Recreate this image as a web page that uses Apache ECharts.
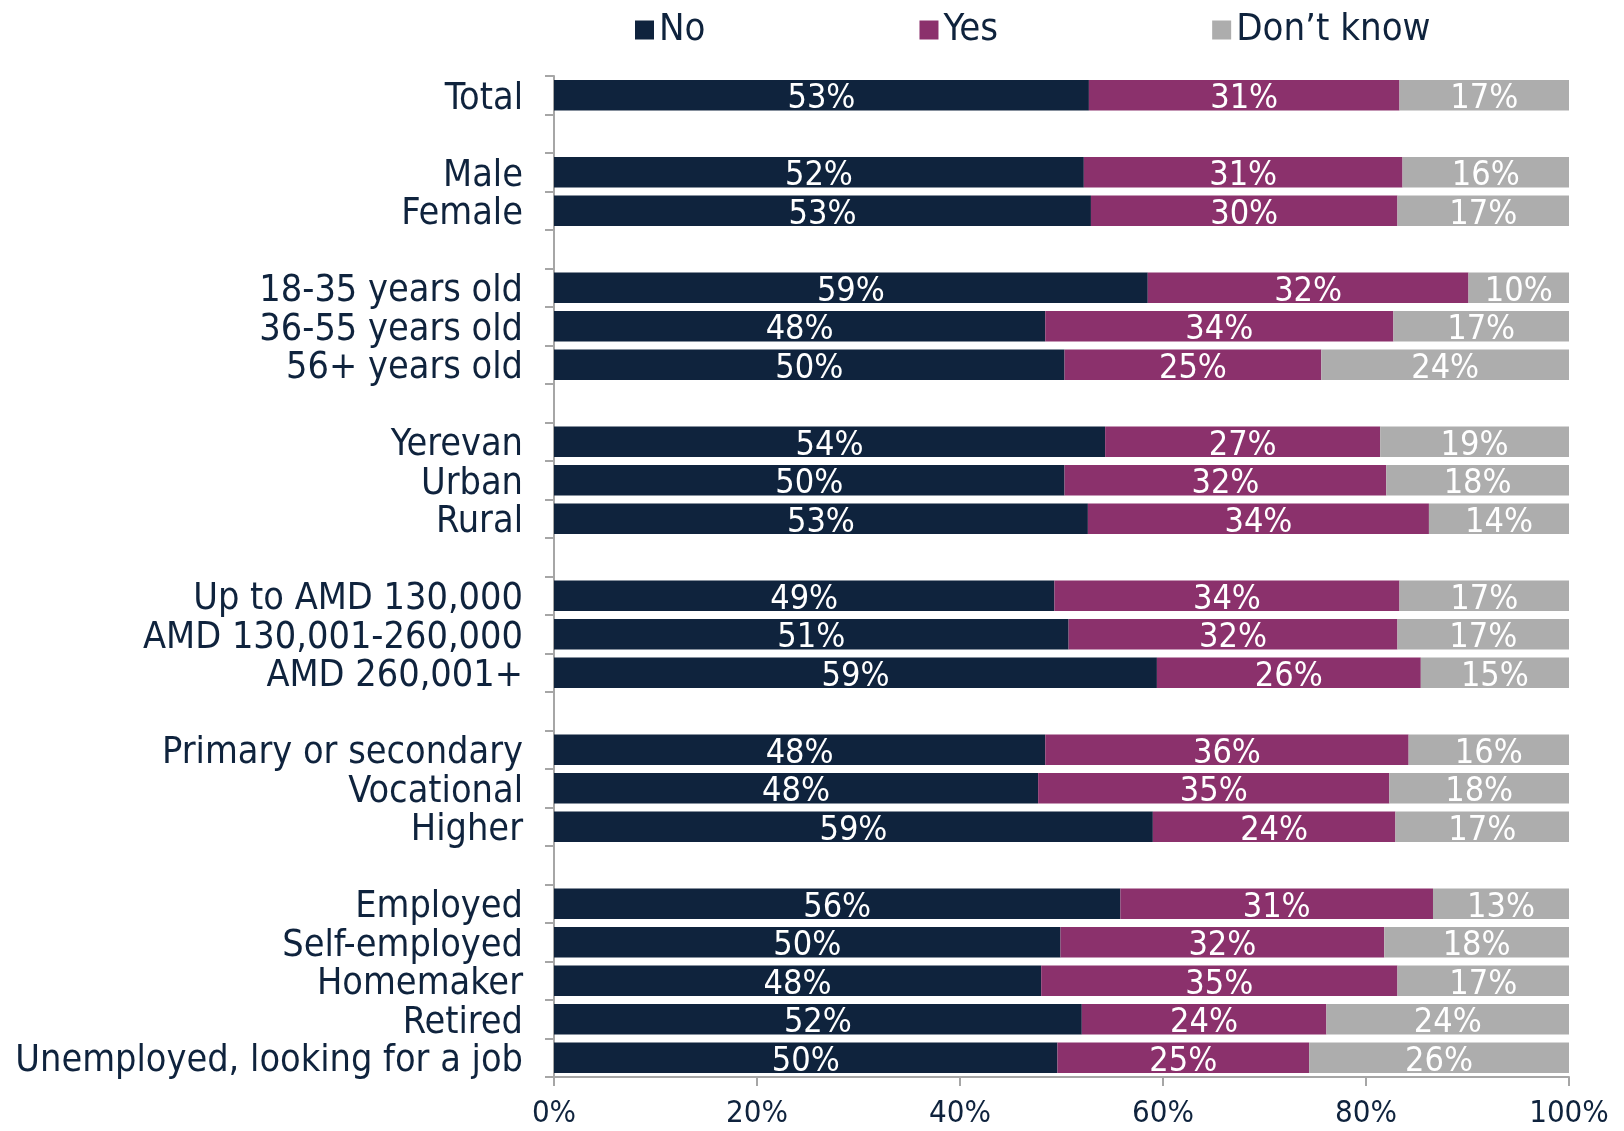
<!DOCTYPE html>
<html>
<head>
<meta charset="utf-8">
<title>Chart</title>
<script src="https://cdn.jsdelivr.net/npm/echarts@6/dist/echarts.min.js"></script>
<style>
  html, body { margin: 0; padding: 0; background: #fff; }
  #main { width: 1624px; height: 1131px; }
</style>
</head>
<body>
<div id="main"></div>
<script>
// categories, blank strings are the gaps between groups
var categories = [
  'Total', '',
  'Male', 'Female', '',
  '18-35 years old', '36-55 years old', '56+ years old', '',
  'Yerevan', 'Urban', 'Rural', '',
  'Up to AMD 130,000', 'AMD 130,001-260,000', 'AMD 260,001+', '',
  'Primary or secondary', 'Vocational', 'Higher', '',
  'Employed', 'Self-employed', 'Homemaker', 'Retired', 'Unemployed, looking for a job'
];
var seriesNames = ['No', 'Yes', 'Don\u2019t know'];
var noValues = [52.7, null, 52.2, 52.9, null, 58.5, 48.4, 50.3, null, 54.3, 50.3, 52.6, null,
  49.3, 50.7, 59.4, null, 48.4, 47.7, 59.0, null, 55.8, 49.9, 48.0, 52.0, 49.6];
var yesValues = [30.6, null, 31.4, 30.2, null, 31.6, 34.3, 25.3, null, 27.1, 31.7, 33.6, null,
  34.0, 32.4, 26.0, null, 35.8, 34.6, 23.9, null, 30.8, 31.9, 35.1, 24.1, 24.8];
var dkValues = [16.7, null, 16.4, 16.9, null, 9.9, 17.3, 24.4, null, 18.6, 18.0, 13.8, null,
  16.7, 16.9, 14.6, null, 15.8, 17.7, 17.1, null, 13.4, 18.2, 16.9, 23.9, 25.6];
var xTicks = [0, 20, 40, 60, 80, 100];
var colors = ['#0F233D', '#8B316C', '#ADADAD'];

var textColor = '#0F233D';
var fontFamily = '"DejaVu Sans Condensed", "DejaVu Sans", sans-serif';

var myChart = echarts.init(document.getElementById('main'));

function makeSeries(name, data, color) {
  return {
    name: name,
    type: 'bar',
    stack: 'total',
    barWidth: '79%',
    data: data,
    itemStyle: { color: color },
    label: {
      show: true,
      position: 'inside',
      offset: [0, 4],
      color: '#fff',
      fontFamily: fontFamily,
      fontSize: 34,
      formatter: function (p) {
        return p.value == null ? '' : Math.round(p.value) + '%';
      }
    }
  };
}

var option = {
  animation: false,
  color: colors,
  legend: {
    left: 630,
    top: 6,
    itemWidth: 19,
    itemHeight: 19,
    itemGap: 214,
    icon: 'rect',
    textStyle: { color: textColor, fontFamily: fontFamily, fontSize: 38 },
    data: seriesNames
  },
  grid: {
    left: 554,
    right: 55,
    top: 76,
    bottom: 54
  },
  xAxis: {
    type: 'value',
    min: 0,
    max: 100,
    interval: 20,
    axisLine: { show: true, lineStyle: { color: '#A6A6A6', width: 2 } },
    axisTick: { show: true, length: 9, lineStyle: { color: '#A6A6A6', width: 2 } },
    splitLine: { show: false },
    axisLabel: {
      margin: 21,
      color: textColor,
      fontFamily: fontFamily,
      fontSize: 31,
      customValues: xTicks,
      formatter: '{value}%'
    }
  },
  yAxis: {
    type: 'category',
    inverse: true,
    data: categories,
    axisLine: { show: true, lineStyle: { color: '#A6A6A6', width: 2 } },
    axisTick: { show: true, length: 9, interval: 0, lineStyle: { color: '#A6A6A6', width: 2 } },
    axisLabel: {
      interval: 0,
      margin: 31,
      color: textColor,
      fontFamily: fontFamily,
      fontSize: 37.5,
      formatter: function (v) {
        return v ? '{t|' + v + '}' : '';
      },
      rich: {
        t: {
          color: textColor,
          fontFamily: fontFamily,
          fontSize: 37.5,
          padding: [8, 0, 0, 0]
        }
      }
    }
  },
  series: [
    makeSeries(seriesNames[0], noValues, colors[0]),
    makeSeries(seriesNames[1], yesValues, colors[1]),
    makeSeries(seriesNames[2], dkValues, colors[2])
  ]
};

myChart.setOption(option);
</script>
</body>
</html>
